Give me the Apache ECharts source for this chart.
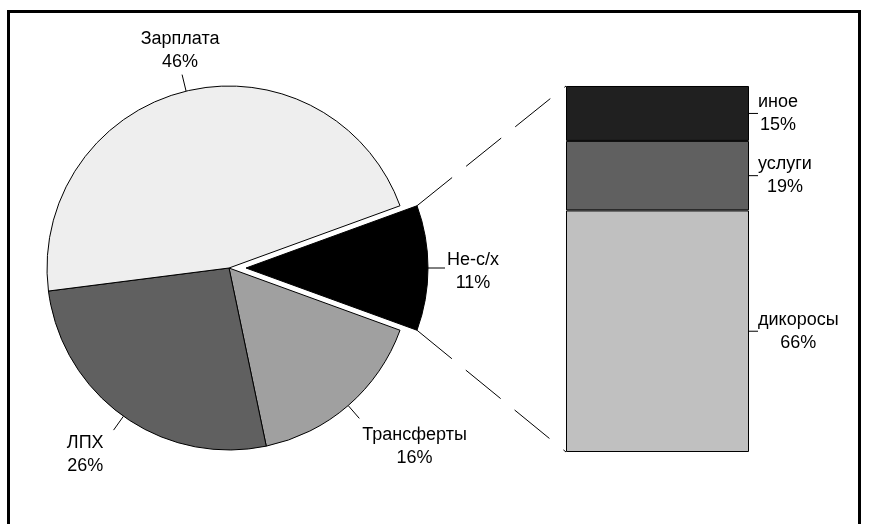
<!DOCTYPE html>
<html lang="ru">
<head>
<meta charset="UTF-8" />
<title>Структура доходов</title>
<script src="https://cdn.jsdelivr.net/npm/echarts@6/dist/echarts.min.js"></script>
<style>
  html, body { margin: 0; padding: 0; background: #fff; }
  #chart { width: 869px; height: 524px; }
</style>
</head>
<body>
<div id="chart"></div>
<script>
// pie: income structure (first slice is the one broken down in the bar)
const pieNames = ['Не-с/х', 'Трансферты', 'ЛПХ', 'Зарплата'];
const pieValues = [11, 16, 26, 46];
const pieColors = ['#000000', '#a0a0a0', '#606060', '#eeeeee'];
// bar: breakdown of Не-с/х, bottom to top
const barNames = ['дикоросы', 'услуги', 'иное'];
const barValues = [66, 19, 15];
const barColors = ['#c0c0c0', '#606060', '#202020'];

const textStyle = {
  fontFamily: 'Arial, "Liberation Sans", sans-serif',
  fontSize: 18,
  lineHeight: 23,
  color: '#000'
};

let myChart = echarts.init(document.getElementById('chart'));

const total = pieValues.reduce((a, b) => a + b, 0);
// the exploded slice is centred on the 3 o'clock direction
const startAngle = pieValues[0] / total * 180;
const explode = 17;
const pieCenter = [229, 268];
const pieRadius = 182;

function pieLabelPos(params) {
  const p = params.labelLinePoints;
  if (!p) return {};
  const e = p[p.length - 1];
  const w = params.labelRect.width;
  let pos;
  switch (params.dataIndex) {
    case 0: pos = { x: e[0] + w / 2 + 2, y: e[1] + 4, verticalAlign: 'middle' }; break;
    case 1: pos = { x: e[0] + w / 2 + 3, y: e[1] + 5, verticalAlign: 'top' }; break;
    case 2: pos = { x: e[0] - w / 2 - 10, y: e[1] + 1, verticalAlign: 'top' }; break;
    default: pos = { x: e[0] - 2, y: e[1] - 1, verticalAlign: 'bottom' };
  }
  pos.align = 'center';
  pos.labelLinePoints = p;
  return pos;
}

function barLabelPos(params) {
  const r = params.labelRect;
  return { x: r.x + r.width / 2, align: 'center', verticalAlign: 'middle' };
}

// one pie draws the three slices, the other (shifted right) draws the exploded one
function pieSeries(center, showIndex) {
  return {
    type: 'pie',
    center: center,
    radius: pieRadius,
    startAngle: startAngle,
    clockwise: true,
    avoidLabelOverlap: false,
    silent: true,
    label: Object.assign({ show: true, position: 'outside', formatter: '{b}\n{c}%' }, textStyle),
    labelLine: { show: true, length: 17, length2: 0, lineStyle: { color: '#000', width: 1 } },
    labelLayout: pieLabelPos,
    data: pieNames.map((n, i) => {
      const on = showIndex(i);
      return {
        name: n,
        value: pieValues[i],
        itemStyle: on ? { color: pieColors[i], borderColor: '#000', borderWidth: 1 } : { color: 'transparent', borderWidth: 0 },
        label: { show: on },
        labelLine: { show: on }
      };
    })
  };
}

let option = {
  animation: false,
  grid: { left: 566, top: 86, width: 183, height: 366 },
  xAxis: { type: 'category', data: ['Не-с/х'], show: false },
  yAxis: { type: 'value', min: 0, max: 100, show: false },
  series: [
    pieSeries(pieCenter, i => i !== 0),
    pieSeries([pieCenter[0] + explode, pieCenter[1]], i => i === 0)
  ].concat(barNames.map((n, i) => ({
    type: 'bar',
    name: n,
    stack: 'nsh',
    barWidth: '100%',
    data: [barValues[i]],
    itemStyle: { color: barColors[i], borderColor: '#000', borderWidth: 1 },
    label: Object.assign({ show: true, position: 'right', distance: 9, formatter: '{a}\n{c}%' }, textStyle),
    labelLine: { show: true, lineStyle: { color: '#000', width: 1 } },
    labelLayout: barLabelPos,
    emphasis: { disabled: true }
  })))
};

myChart.setOption(option);

// dashed connectors from the exploded slice to the bar, plus the outer frame
let graphics = [
  {
    type: 'rect',
    shape: { x: 8.5, y: 11.5, width: 851, height: 530 },
    style: { fill: 'none', stroke: '#000', lineWidth: 3 },
    silent: true
  }
];
try {
  const lay = myChart.getModel().getSeriesByIndex(1).getData().getItemLayout(0);
  let corners = [lay.startAngle, lay.endAngle].map(a => [lay.cx + lay.r * Math.cos(a), lay.cy + lay.r * Math.sin(a)]);
  corners.sort((a, b) => a[1] - b[1]);
  const rect = myChart.getModel().getComponent('grid', 0).coordinateSystem.getRect();
  const ends = [[rect.x, rect.y], [rect.x, rect.y + rect.height]];
  for (let k = 0; k < 2; k++) {
    graphics.push({
      type: 'line',
      shape: { x1: corners[k][0], y1: corners[k][1], x2: ends[k][0], y2: ends[k][1] },
      style: { stroke: '#000', lineWidth: 1, lineDash: [45, 18] },
      silent: true
    });
  }
} catch (err) {
  console.log(err);
}
myChart.setOption({ graphic: graphics });
</script>
</body>
</html>
